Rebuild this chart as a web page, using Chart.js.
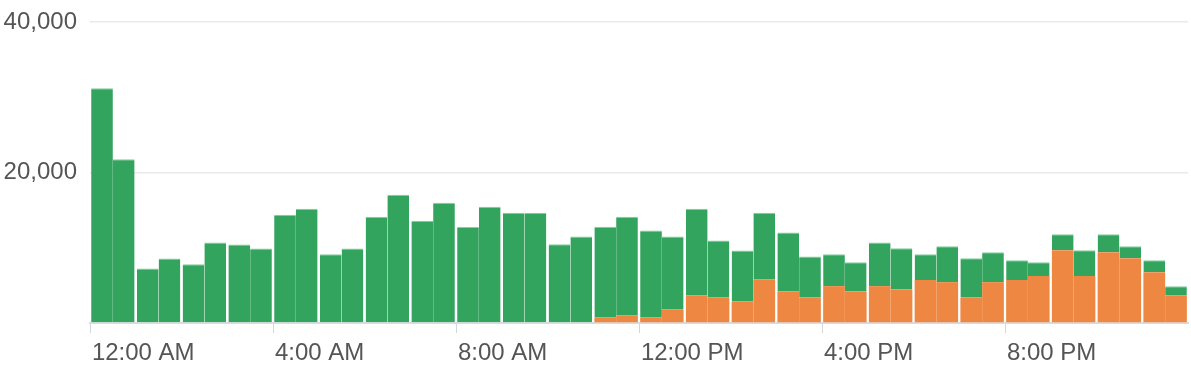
<!DOCTYPE html>
<html>
<head>
<meta charset="utf-8">
<script src="https://cdn.jsdelivr.net/npm/chart.js@4"></script>
<style>
  html, body { margin: 0; padding: 0; background: #fff; }
  #wrap { width: 1191px; height: 370px; }
</style>
</head>
<body>
<div id="wrap"><canvas id="chart" width="1191" height="370"></canvas></div>
<script>
// hour labels, one bar pair per hour
const hours = [
  '12:00 AM', '1:00 AM', '2:00 AM', '3:00 AM', '4:00 AM', '5:00 AM',
  '6:00 AM', '7:00 AM', '8:00 AM', '9:00 AM', '10:00 AM', '11:00 AM',
  '12:00 PM', '1:00 PM', '2:00 PM', '3:00 PM', '4:00 PM', '5:00 PM',
  '6:00 PM', '7:00 PM', '8:00 PM', '9:00 PM', '10:00 PM', '11:00 PM'
]

// half-hour values (48 each)
const orangeValues = [
  0, 0, 0, 0, 0, 0, 0, 0, 0, 0, 0, 0,
  0, 0, 0, 0, 0, 0, 0, 0, 0, 0, 700, 970,
  700, 1760, 3620, 3350, 2820, 5740, 4150, 3350, 4900, 4150, 4900, 4410,
  5700, 5430, 3350, 5430, 5700, 6230, 9670, 6230, 9400, 8610, 6750, 3620
]
const greenValues = [
  31200, 21760, 7240, 8570, 7810, 10690, 10420, 9890, 14400, 15190, 9140, 9890,
  14130, 17050, 13600, 15990, 12760, 15450, 14660, 14660, 10460, 11480, 12100, 13160,
  11580, 9720, 11570, 7600, 6810, 8920, 7860, 5480, 4240, 3930, 5790, 5520,
  3440, 4770, 5260, 3970, 2640, 1850, 2120, 3440, 2390, 1590, 1590, 1280
]

const yTicks = [0, 20000, 40000]

const green = '#33a45e'
const orange = '#ee8742'
const textColor = '#555'
const fontFamily = '"Liberation Sans", Arial, sans-serif'

// split the half-hour series into the first and second half of each hour
const firstHalf = arr => arr.filter((v, i) => i % 2 === 0)
const secondHalf = arr => arr.filter((v, i) => i % 2 === 1)

const barStyle = (color, edge) => ({
  backgroundColor: color,
  borderColor: edge || color,
  borderWidth: edge ? { top: 1, left: 0, right: 0, bottom: 0 } : 0,
  borderSkipped: 'start',
  barPercentage: 1,
  categoryPercentage: 0.95
})

new Chart(document.getElementById('chart'), {
  type: 'bar',
  data: {
    labels: hours,
    datasets: [
      { label: 'orange a', data: firstHalf(orangeValues), stack: 'a', ...barStyle(orange, null) },
      { label: 'green a', data: firstHalf(greenValues), stack: 'a', ...barStyle(green, '#86cda0') },
      { label: 'orange b', data: secondHalf(orangeValues), stack: 'b', ...barStyle(orange, null) },
      { label: 'green b', data: secondHalf(greenValues), stack: 'b', ...barStyle(green, '#86cda0') }
    ]
  },
  options: {
    responsive: false,
    animation: false,
    devicePixelRatio: 1,
    layout: { padding: { top: 22, right: 3, left: 0, bottom: 0 } },
    plugins: {
      legend: { display: false },
      tooltip: { enabled: false }
    },
    scales: {
      x: {
        stacked: true,
        offset: true,
        afterFit: scale => {
          scale.height = 47
          scale.paddingLeft = 0
          scale.paddingRight = 0
        },
        grid: {
          offset: true,
          drawOnChartArea: false,
          drawTicks: true,
          tickLength: 10,
          lineWidth: 1,
          color: ctx => (ctx.index % 4 === 0 && ctx.index < hours.length) ? '#d3d7dc' : 'rgba(0,0,0,0)',
          tickColor: ctx => (ctx.index % 4 === 0 && ctx.index < hours.length) ? '#d3d7dc' : 'rgba(0,0,0,0)'
        },
        border: { color: '#d8dce1', width: 2 },
        ticks: {
          autoSkip: false,
          maxRotation: 0,
          align: 'start',
          labelOffset: -21,
          padding: 6,
          color: textColor,
          font: { size: 24, family: fontFamily },
          callback: (v, i) => i % 4 === 0 ? hours[i] : ''
        }
      },
      y: {
        stacked: true,
        min: yTicks[0],
        max: yTicks[yTicks.length - 1],
        afterFit: scale => {
          scale.width = 90
          scale.paddingTop = 0
          scale.paddingBottom = 0
        },
        afterBuildTicks: scale => { scale.ticks = yTicks.map(v => ({ value: v })) },
        grid: { color: '#e8eaee', lineWidth: 1.5, drawTicks: false },
        border: { display: false },
        ticks: {
          padding: 13,
          color: textColor,
          font: { size: 24, family: fontFamily },
          callback: v => v === 0 ? '' : v.toLocaleString('en-US')
        }
      }
    }
  }
})
</script>
</body>
</html>
